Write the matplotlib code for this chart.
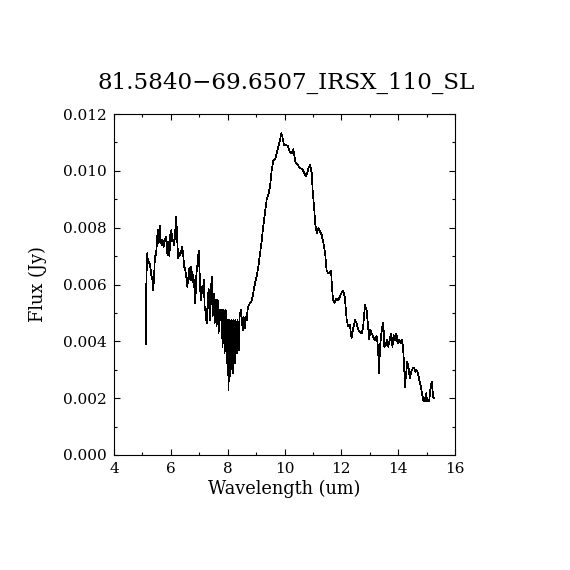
import matplotlib
matplotlib.use("Agg")
import matplotlib.pyplot as plt
from matplotlib.ticker import MultipleLocator

title = "81.5840\u221269.6507_IRSX_110_SL"
xlabel = "Wavelength (um)"
ylabel = "Flux (Jy)"

wavelength = [
    5.12, 5.14, 5.17, 5.20, 5.24, 5.27, 5.31, 5.35, 5.38, 5.41, 5.44, 5.48, 5.50,
    5.54, 5.57, 5.61, 5.64, 5.68, 5.71, 5.75, 5.79, 5.83, 5.88, 5.91, 5.95, 5.98,
    6.02, 6.05, 6.09, 6.12, 6.16, 6.19, 6.23, 6.26, 6.30, 6.33, 6.37, 6.40, 6.44,
    6.47, 6.51, 6.55, 6.58, 6.62, 6.65, 6.69, 6.72, 6.76, 6.79, 6.83, 6.86, 6.90,
    6.93, 6.98, 7.00, 7.05, 7.08, 7.12, 7.16, 7.19, 7.23, 7.26, 7.30, 7.33, 7.37,
    7.40, 7.44, 7.47, 7.51, 7.54, 7.58, 7.61, 7.65, 7.68, 7.72, 7.75, 7.79, 7.82,
    7.86, 7.89, 7.93, 7.96, 8.00, 8.03, 8.07, 8.10, 8.14, 8.18, 8.21, 8.25, 8.28,
    8.32, 8.35, 8.39, 8.42, 8.46, 8.49, 8.53, 8.56, 8.60, 8.63, 8.67, 8.70, 8.74,
    8.79, 8.84, 8.90, 8.96, 9.02, 9.08, 9.14, 9.20, 9.25, 9.31, 9.37, 9.43, 9.49,
    9.55, 9.61, 9.67, 9.72, 9.78, 9.84, 9.89, 9.93, 9.98, 10.05, 10.12, 10.19,
    10.26, 10.31, 10.38, 10.43, 10.49, 10.57, 10.64, 10.71, 10.76, 10.80, 10.86,
    10.90, 10.96, 10.99, 11.04, 11.08, 11.14, 11.19, 11.25, 11.31, 11.37, 11.43,
    11.48, 11.54, 11.60, 11.64, 11.67, 11.71, 11.77, 11.83, 11.89, 11.95, 12.00,
    12.06, 12.12, 12.19, 12.24, 12.30, 12.36, 12.42, 12.48, 12.54, 12.60, 12.66,
    12.72, 12.77, 12.83, 12.89, 12.95, 12.98, 13.02, 13.07, 13.12, 13.18, 13.24,
    13.29, 13.33, 13.36, 13.41, 13.44, 13.48, 13.51, 13.56, 13.61, 13.65, 13.70,
    13.75, 13.80, 13.84, 13.89, 13.94, 13.98, 14.04, 14.09, 14.13, 14.17, 14.20,
    14.24, 14.27, 14.32, 14.37, 14.41, 14.46, 14.51, 14.56, 14.60, 14.65, 14.70,
    14.74, 14.79, 14.84, 14.88, 14.93, 14.98, 15.03, 15.09, 15.13, 15.18, 15.23,
    15.27,
]

flux_mjy = [
    3.89, 6.22, 7.10, 6.74, 6.80, 6.69, 6.33, 6.16, 5.81, 6.27, 6.98, 7.04, 7.33,
    7.92, 7.45, 8.06, 7.59, 7.39, 7.56, 7.33, 7.56, 7.68, 7.04, 7.51, 7.00, 7.74,
    7.92, 7.51, 7.56, 7.39, 7.94, 8.39, 7.45, 6.92, 7.10, 7.04, 7.21, 7.33, 6.98,
    6.63, 6.51, 6.22, 5.92, 6.27, 6.57, 6.16, 6.63, 6.10, 6.33, 5.86, 5.34, 6.39,
    6.63, 7.19, 6.74, 5.45, 5.92, 5.69, 6.16, 5.22, 4.98, 4.63, 5.45, 5.86, 4.75,
    5.57, 6.27, 4.87, 5.69, 4.63, 5.45, 4.52, 5.45, 4.28, 5.10, 4.75, 5.10, 3.81,
    5.10, 3.58, 5.10, 3.23, 4.75, 2.29, 4.75, 2.76, 4.75, 2.87, 4.75, 3.23, 4.75,
    3.58, 4.75, 3.69, 4.87, 5.10, 4.87, 4.40, 4.87, 4.46, 4.87, 4.75, 5.10, 5.28,
    5.34, 5.40, 5.69, 6.04, 6.27, 6.63, 7.10, 7.56, 8.03, 8.50, 8.97, 9.15, 9.44,
    10.03, 10.38, 10.40, 10.61, 10.85, 11.08, 11.32, 11.18, 10.91, 10.91, 10.87, 10.67,
    10.62, 10.76, 10.32, 10.26, 10.17, 10.09, 10.03, 9.89, 9.82, 9.93, 10.14,
    10.20, 9.91, 9.32, 8.74, 8.15, 7.80, 7.98, 7.86, 7.74, 7.45, 7.10,
    6.51, 6.39, 6.45, 6.49, 5.92, 5.45, 5.36, 5.51, 5.45, 5.57, 5.69,
    5.78, 5.57, 4.75, 4.52, 4.57, 4.10, 4.46, 4.75, 4.63, 4.40, 4.34,
    4.28, 4.52, 5.28, 5.10, 4.40, 4.07, 4.40, 4.28, 4.16, 4.05, 4.19,
    3.81, 2.87, 3.81, 4.28, 4.52, 4.66, 3.81, 3.87, 4.05, 3.81, 4.05,
    4.28, 3.81, 4.22, 4.05, 4.28, 3.93, 4.05, 3.93, 4.05, 3.81, 3.34,
    2.40, 2.76, 3.28, 3.05, 2.70, 2.93, 3.05, 3.08, 2.93, 2.99, 2.87,
    2.64, 2.46, 2.17, 1.94, 1.88, 2.17, 1.88, 1.88, 2.29, 2.58, 2.05,
    1.99,
]
flux = [v * 1e-3 for v in flux_mjy]

xticks = [4, 6, 8, 10, 12, 14, 16]
xticklabels = ["4", "6", "8", "10", "12", "14", "16"]
yticks = [0.000, 0.002, 0.004, 0.006, 0.008, 0.010, 0.012]
yticklabels = ["0.000", "0.002", "0.004", "0.006", "0.008", "0.010", "0.012"]

plt.rcParams["font.family"] = ["DejaVu Serif"]

fig = plt.figure(figsize=(5.7, 5.7), dpi=100)
ax = fig.add_axes([114 / 570, 115 / 570, 341 / 570, 341 / 570])
ax.plot(wavelength, flux, color="black", lw=0.5, antialiased=False)
ax.set_xlim(4, 16)
ax.set_ylim(0, 0.012)
ax.set_xticks(xticks)
ax.set_xticklabels(xticklabels)
ax.set_yticks(yticks)
ax.set_yticklabels(yticklabels)
ax.xaxis.set_minor_locator(MultipleLocator(1))
ax.yaxis.set_minor_locator(MultipleLocator(0.001))
ax.tick_params(which="both", direction="in", top=True, right=True, width=0.8,
               labelsize=11)
ax.tick_params(which="major", length=4.5)
ax.tick_params(which="minor", length=2.5)
ax.tick_params(axis="x", pad=5)
ax.tick_params(axis="y", pad=5)
for s in ax.spines.values():
    s.set_linewidth(0.8)
ax.set_xlabel(xlabel, fontsize=12.8, labelpad=3)
ax.set_ylabel(ylabel, fontsize=12.8, labelpad=12)
fig.text(286 / 570, 1 - 83 / 570, title, fontsize=16.6, ha="center", va="center")

fig.savefig("out.png", dpi=100)
